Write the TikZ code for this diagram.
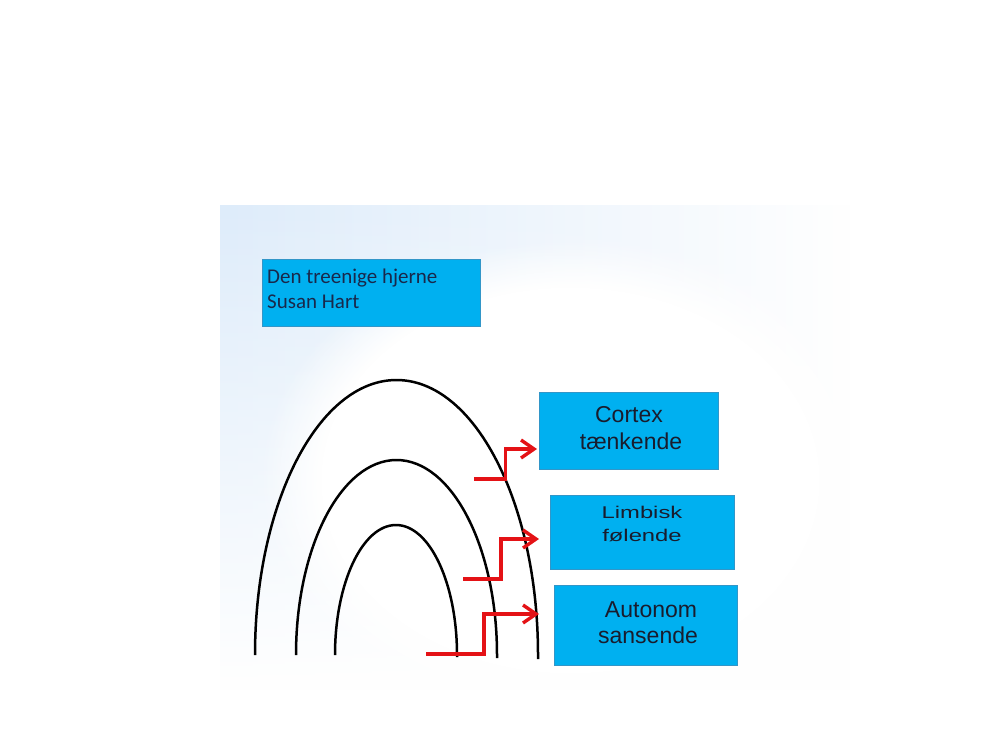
\documentclass[tikz,border=0pt]{standalone}
\usepackage{fontspec}
\setmainfont{Liberation Sans}
\newfontfamily\calfont{Carlito}
\usetikzlibrary{arrows.meta,fadings}
\definecolor{boxblue}{RGB}{0,176,240}
\definecolor{boxedge}{RGB}{50,150,200}
\definecolor{glowblue}{RGB}{222,236,250}
\definecolor{navy}{RGB}{25,40,75}
\definecolor{inkdark}{RGB}{25,28,45}
\definecolor{arrowred}{RGB}{228,18,22}
\begin{document}
\begin{tikzpicture}[x=1pt,y=-1pt,
  bluebox/.style={fill=boxblue, draw=boxedge, line width=0.8pt, inner sep=0pt, anchor=north west},
  brainarc/.style={draw=black, line width=2.5pt},
  redarrow/.style={draw=arrowred, line width=3.4pt, line join=miter, -{Straight Barb[length=13pt,width=18pt]}},
  bigtxt/.style={font=\fontsize{23}{23}\selectfont, text=inkdark, anchor=base, inner sep=0pt},
  midtxt/.style={font=\fontsize{17}{17}\selectfont, text=inkdark, anchor=base, inner sep=0pt},
  titletxt/.style={font=\calfont\fontsize{21}{21}\selectfont, text=navy, anchor=base west, inner sep=0pt}]
\useasboundingbox (0,0) rectangle (1000,750);
\fill[white] (0,0) rectangle (1000,750);
% background glow
\fill[glowblue, path fading=east] (220,205) rectangle (850,690);
\fill[white, path fading=north] (220,205) rectangle (850,690);
\fill[white, path fading=circle with fuzzy edge 20 percent] (570,480) ellipse[x radius=310, y radius=240];

% title box
\node[bluebox, minimum width=218pt, minimum height=67pt] (title) at (262,259) {};
\node[titletxt] (t1) at (267,283) {Den treenige hjerne};
\node[titletxt] (t2) at (267,308) {Susan Hart};

% brain arcs
\draw[brainarc] (255,655) arc[start angle=180, end angle=360, x radius=141.5, y radius=275] -- (538,659);
\draw[brainarc] (296,655) arc[start angle=180, end angle=360, x radius=100.5, y radius=195] -- (497,658);
\draw[brainarc] (335,655) arc[start angle=180, end angle=360, x radius=61, y radius=130] -- (457,657);

% boxes
\node[bluebox, minimum width=179pt, minimum height=77pt] (cortex) at (539,392) {};
\node[bigtxt] (c1) at (629,422) {Cortex};
\node[bigtxt] (c2) at (631,449.5) {tænkende};

\node[bluebox, minimum width=184pt, minimum height=74pt] (limbisk) at (550,495) {};
\node[midtxt] (l1) at (642,518) {\scalebox{1.4}[1]{Limbisk}};
\node[midtxt] (l2) at (642,541) {\scalebox{1.4}[1]{følende}};

\node[bluebox, minimum width=183pt, minimum height=80pt] (autonom) at (554,585) {};
\node[bigtxt] (a1) at (651,617) {Autonom};
\node[bigtxt] (a2) at (648,643) {sansende};

% red arrows
\coordinate (r1s) at (474,479);
\coordinate (r1k) at (505.5,449);
\coordinate (r1e) at (537,449);
\coordinate (r2s) at (463,579);
\coordinate (r2k) at (501,539);
\coordinate (r2e) at (539,539);
\coordinate (r3s) at (426,654);
\coordinate (r3k) at (484,614);
\coordinate (r3e) at (539,614);
\draw[redarrow] (r1s) -| (r1k) -- (r1e);
\draw[redarrow] (r2s) -| (r2k) -- (r2e);
\draw[redarrow] (r3s) -| (r3k) -- (r3e);
\end{tikzpicture}
\end{document}
